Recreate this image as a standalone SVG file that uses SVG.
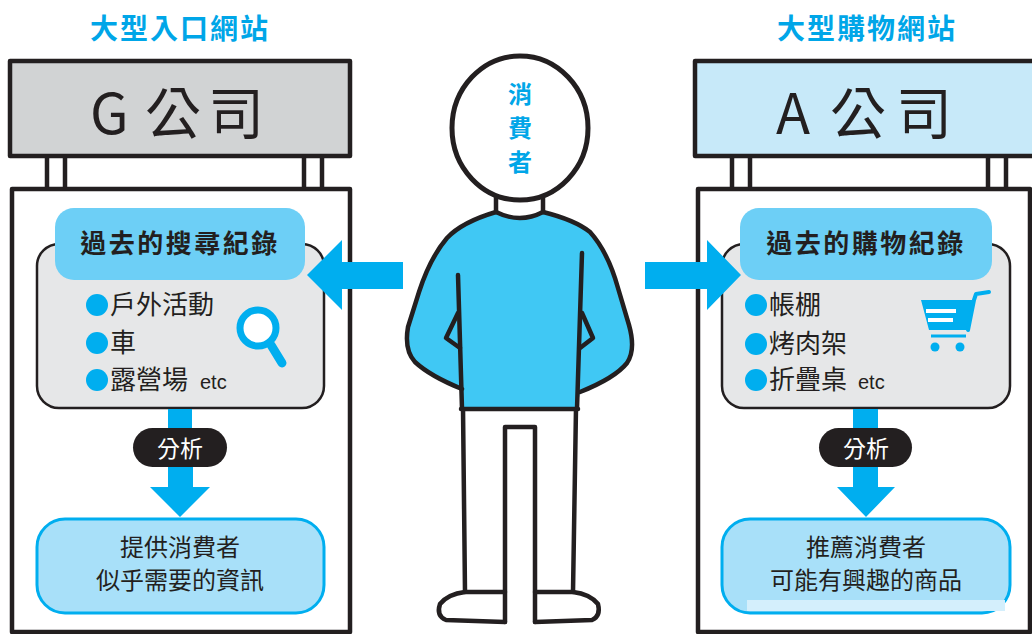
<svg xmlns="http://www.w3.org/2000/svg" width="1032" height="634" viewBox="0 0 1032 634">
  <style>
    .ink { fill: none; stroke: #231f20; stroke-width: 4.5; stroke-linejoin: round; stroke-linecap: round; }
    .board { fill: #ffffff; stroke: #231f20; stroke-width: 4.5; stroke-linejoin: round; }
    .post { stroke: #231f20; stroke-width: 4.5; }
    .panel { fill: #e6e7e8; stroke: #231f20; stroke-width: 2.5; }
    .header { fill: #6dcff6; }
    .result { fill: #a8e0f9; stroke: #00aeef; stroke-width: 3; }
    .pill { fill: #231f20; }
    .flow { fill: #00aeef; }
    .cjk { font-family: "Noto Sans CJK TC", "Noto Sans CJK SC", sans-serif; fill: #231f20; }
    .title { font-size: 28px; font-weight: bold; fill: #00a6e8; letter-spacing: 2px; }
    .head-label { font-size: 26px; font-weight: bold; letter-spacing: 2.5px; }
    .item { font-size: 26px; }
    .etc { font-family: "Liberation Sans", Arial, sans-serif; font-size: 20px; fill: #231f20; }
    .sign { font-size: 56px; }
    .pill-text { font-size: 23px; fill: #ffffff; }
    .result-text { font-size: 24px; }
    .dot { fill: #00aeef; }
    .face { font-family: "Noto Sans CJK TC", "Noto Sans CJK SC", sans-serif; font-size: 24px; font-weight: bold; fill: #00a6e8; }
  </style>

  <rect width="1032" height="634" fill="#ffffff"/>

  <!-- Left site: search portal -->
  <g id="portal-site">
    <text class="cjk title" x="180" y="39" text-anchor="middle">大型入口網站</text>
    <line class="post" x1="47" y1="156" x2="47" y2="190"/>
    <line class="post" x1="65" y1="156" x2="65" y2="190"/>
    <line class="post" x1="304" y1="156" x2="304" y2="190"/>
    <line class="post" x1="322" y1="156" x2="322" y2="190"/>
    <rect class="board" x="10" y="61" width="340" height="95" style="fill:#d1d3d4"/>
    <text class="cjk sign" y="134"><tspan x="90">G</tspan><tspan x="145">公</tspan><tspan x="208">司</tspan></text>
    <rect class="board" x="12" y="189" width="338" height="443"/>
  </g>

  <g id="search-history">
    <rect class="panel" x="37" y="244" width="287" height="164" rx="22"/>
    <rect class="header" x="55" y="208" width="250" height="72" rx="19"/>
    <text class="cjk head-label" x="180" y="253" text-anchor="middle">過去的搜尋紀錄</text>
    <circle class="dot" cx="97" cy="305" r="11"/>
    <circle class="dot" cx="97" cy="343" r="11"/>
    <circle class="dot" cx="97" cy="380" r="11"/>
    <text class="cjk item" x="110" y="314">戶外活動</text>
    <text class="cjk item" x="110" y="352">車</text>
    <text class="cjk item" x="110" y="389">露營場</text>
    <text class="etc" x="200" y="389">etc</text>
    <!-- magnifier -->
    <circle cx="258" cy="328" r="18" fill="#ffffff" stroke="#00aeef" stroke-width="7"/>
    <line x1="271" y1="345" x2="282" y2="363" stroke="#00aeef" stroke-width="9" stroke-linecap="round"/>
  </g>

  <g id="portal-analysis">
    <rect class="pill" x="133" y="428" width="94" height="39" rx="19.5"/>
    <text class="cjk pill-text" x="180" y="457" text-anchor="middle">分析</text>
  </g>

  <g id="portal-result">
    <rect class="result" x="37" y="519" width="287" height="94" rx="28"/>
    <text class="cjk result-text" x="180" y="556" text-anchor="middle">提供消費者</text>
    <text class="cjk result-text" x="180" y="589" text-anchor="middle">似乎需要的資訊</text>
  </g>

  <!-- Right site: shopping -->
  <g id="shop-site">
    <text class="cjk title" x="867" y="39" text-anchor="middle">大型購物網站</text>
    <line class="post" x1="732" y1="156" x2="732" y2="190"/>
    <line class="post" x1="750" y1="156" x2="750" y2="190"/>
    <line class="post" x1="988" y1="156" x2="988" y2="190"/>
    <line class="post" x1="1006" y1="156" x2="1006" y2="190"/>
    <rect class="board" x="695" y="61" width="345" height="95" style="fill:#c7e9f9"/>
    <text class="cjk sign" y="134"><tspan x="776">A</tspan><tspan x="830">公</tspan><tspan x="896">司</tspan></text>
    <rect class="board" x="698" y="189" width="332" height="443"/>
  </g>

  <g id="purchase-history">
    <rect class="panel" x="722" y="244" width="288" height="164" rx="22"/>
    <rect class="header" x="740" y="208" width="252" height="72" rx="19"/>
    <text class="cjk head-label" x="866" y="253" text-anchor="middle">過去的購物紀錄</text>
    <circle class="dot" cx="756" cy="305" r="11"/>
    <circle class="dot" cx="756" cy="344" r="11"/>
    <circle class="dot" cx="756" cy="380" r="11"/>
    <text class="cjk item" x="769" y="314">帳棚</text>
    <text class="cjk item" x="769" y="353">烤肉架</text>
    <text class="cjk item" x="769" y="389">折疊桌</text>
    <text class="etc" x="858" y="389">etc</text>
    <!-- shopping cart -->
    <path d="M921,300 L975,300 L968,330 L929,330 Z" fill="#00aeef"/>
    <path d="M968,330 L974,300 L976,294 L989,292" fill="none" stroke="#00aeef" stroke-width="4" stroke-linecap="round" stroke-linejoin="round"/>
    <line x1="931" y1="336" x2="966" y2="336" stroke="#00aeef" stroke-width="3"/>
    <rect x="926" y="309" width="30" height="4" fill="#ffffff"/>
    <rect x="928" y="318" width="25" height="4" fill="#ffffff"/>
    <circle cx="935" cy="347" r="4.5" fill="#00aeef"/>
    <circle cx="960" cy="347" r="4.5" fill="#00aeef"/>
  </g>

  <g id="shop-analysis">
    <rect class="pill" x="819" y="428" width="93" height="39" rx="19.5"/>
    <text class="cjk pill-text" x="866" y="457" text-anchor="middle">分析</text>
  </g>

  <g id="shop-result">
    <rect class="result" x="722" y="519" width="288" height="94" rx="28"/>
    <rect x="747" y="600" width="258" height="11" fill="#d4effc"/>
    <text class="cjk result-text" x="866" y="556" text-anchor="middle">推薦消費者</text>
    <text class="cjk result-text" x="866" y="589" text-anchor="middle">可能有興趣的商品</text>
  </g>

  <!-- Consumer figure -->
  <g id="consumer">
    <!-- pants -->
    <path d="M463,408 L465,592 Q448,594 440,604 Q436,616 446,620 L505,622 L505,427 L535,427 L535,622 L592,620 Q601,616 598,604 Q590,594 573,592 L576,408 Z" fill="#ffffff"/>
    <path class="ink" d="M463,408 L465,592 M576,408 L573,592"/>
    <path class="ink" d="M505,622 L505,427 L535,427 L535,622"/>
    <path class="ink" d="M465,592 L505,592 M465,592 Q448,594 440,604 Q436,616 446,620 L505,622"/>
    <path class="ink" d="M535,592 L573,592 M573,592 Q590,594 598,604 Q601,616 592,620 L535,622"/>
    <!-- shirt -->
    <path d="M496,212 Q520,224 543,212 Q575,220 590,232 Q608,252 618,288 L629,325 Q636,350 627,363 Q615,378 580,392 L577,409 L462,409 L462,388 Q430,378 415,362 Q404,350 408,327 L419,292 Q430,258 447,238 Q462,222 496,212 Z" fill="#40c8f4"/>
    <path class="ink" d="M496,212 Q462,222 447,238 Q430,258 419,292 L408,327 Q404,350 415,362 Q430,376 462,389"/>
    <path class="ink" d="M543,212 Q575,220 590,232 Q608,252 618,288 L629,325 Q636,350 627,363 Q615,378 580,392"/>
    <path class="ink" d="M496,212 Q520,224 543,212"/>
    <path class="ink" d="M458,275 L462,409"/>
    <path class="ink" d="M582,253 L577,409"/>
    <path class="ink" d="M458,313 L446,338 L460,348"/>
    <path class="ink" d="M582,313 L593,338 L580,348"/>
    <path class="ink" d="M461,409 L578,409"/>
    <!-- neck -->
    <path class="ink" d="M496,196 L496,212 M543,196 L543,212"/>
    <!-- head -->
    <ellipse cx="520" cy="128" rx="68" ry="72" fill="#ffffff" stroke="#231f20" stroke-width="5"/>
    <text class="face" x="520" y="103" text-anchor="middle">消</text>
    <text class="face" x="520" y="137" text-anchor="middle">費</text>
    <text class="face" x="520" y="171" text-anchor="middle">者</text>
  </g>

  <!-- Connectors -->
  <g id="connectors">
    <!-- consumer to portal -->
    <path class="flow" d="M403,262 L342,262 L342,240 L307,275 L342,310 L342,289 L403,289 Z"/>
    <!-- consumer to shop -->
    <path class="flow" d="M645,262 L707,262 L707,240 L741,275 L707,310 L707,289 L645,289 Z"/>
    <!-- portal history down to result -->
    <path class="flow" d="M168,409 L168,428 L192,428 L192,409 Z"/>
    <path class="flow" d="M168,467 L168,487 L150,487 L180,517 L210,487 L193,487 L193,467 Z"/>
    <!-- shop history down to result -->
    <path class="flow" d="M853,409 L853,428 L878,428 L878,409 Z"/>
    <path class="flow" d="M853,467 L853,487 L837,487 L866,517 L895,487 L878,487 L878,467 Z"/>
  </g>
</svg>
